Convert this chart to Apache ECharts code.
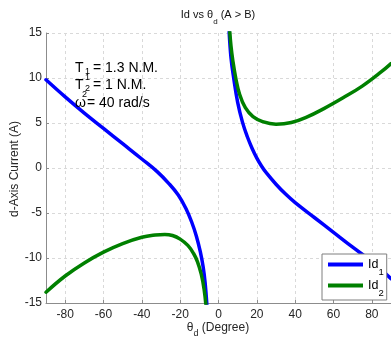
<!DOCTYPE html>
<html>
<head>
<meta charset="utf-8">
<script src="https://cdn.jsdelivr.net/npm/echarts@6/dist/echarts.min.js"></script>
<style>html,body{margin:0;padding:0;background:#fff;}#c{width:391px;height:342px;}</style>
</head>
<body>
<div id="c"></div>
<script>
// ---- data ----
const xTicks = [-80, -60, -40, -20, 0, 20, 40, 60, 80];
const yTicks = [-15, -10, -5, 0, 5, 10, 15];

const thetaId1Left = [-90, -80, -70, -60, -50, -40, -32, -26, -21, -17, -14, -11.5, -9.5, -8, -7, -6];
const id1Left      = [9.8, 7.9, 6.1, 4.4, 2.7, 1.0, -0.4, -1.7, -3.0, -4.5, -6.0, -7.6, -9.3, -11.0, -12.7, -15.4];

const thetaId2Left = [-90, -80, -70, -60, -50, -40, -33, -28, -24, -20, -16, -13, -11, -9, -7.5, -6.5];
const id2Left      = [-13.8, -12.0, -10.55, -9.35, -8.4, -7.7, -7.45, -7.38, -7.5, -7.9, -8.6, -9.5, -10.4, -11.8, -13.5, -15.4];

const thetaId1Right = [5.5, 6.5, 8, 10, 12.5, 15, 17.5, 20, 22.5, 25, 30, 35, 40, 50, 60, 70, 80, 90];
const id1Right      = [15.4, 12.3, 9.9, 7.3, 5.1, 3.5, 2.2, 1.1, 0.2, -0.55, -1.8, -2.9, -3.85, -5.5, -7.15, -8.8, -10.4, -12.3];

const thetaId2Right = [5.8, 6.5, 7.5, 9, 11, 14, 18, 23, 30, 38, 46, 55, 65, 75, 85, 90];
const id2Right      = [15.4, 13.6, 11.9, 10.0, 8.2, 6.7, 5.7, 5.15, 4.87, 5.05, 5.65, 6.6, 7.8, 9.1, 10.7, 11.6];

// ---- chart ----
const FONT = "'Liberation Sans', Arial, Helvetica, sans-serif";
const zip = (xs, ys) => xs.map((x, i) => [x, ys[i]]);
const BLUE = '#0000ff', GREEN = '#008000';

function lineSeries(name, color, data) {
  return {
    name: name, type: 'line', data: data, color: color,
    showSymbol: false, symbol: 'none', smooth: 0.4,
    lineStyle: {width: 3.5, color: color, cap: 'round', join: 'round'}, clip: true, z: 3,
    emphasis: {disabled: true}
  };
}

const chart = echarts.init(document.getElementById('c'), null, {renderer: 'canvas'});
const gridLine = {show: true, lineStyle: {color: '#d9d9d9', type: [3, 3], width: 1}};

chart.setOption({
  animation: false,
  backgroundColor: '#ffffff',
  textStyle: {fontFamily: FONT},
  grid: {left: 46, right: -1, top: 33, bottom: 39, containLabel: false},
  xAxis: {
    type: 'value', min: -90, max: 90, splitNumber: 9,
    axisLine: {show: true, onZero: false, lineStyle: {color: '#8c8c8c', width: 1}},
    axisTick: {show: true, inside: true, length: 3, customValues: xTicks, lineStyle: {color: '#8c8c8c'}},
    axisLabel: {customValues: xTicks, color: '#262626', fontSize: 12, margin: 6, fontFamily: FONT},
    splitLine: gridLine
  },
  yAxis: {
    type: 'value', min: -15, max: 15, interval: 5,
    axisLine: {show: true, onZero: false, lineStyle: {color: '#8c8c8c', width: 1}},
    axisTick: {show: true, inside: true, length: 3, lineStyle: {color: '#8c8c8c'}},
    axisLabel: {color: '#262626', fontSize: 12, margin: 4, fontFamily: FONT},
    splitLine: gridLine
  },
  legend: {
    show: true, orient: 'vertical', left: 322, top: 254,
    data: ['Id1', 'Id2'],
    icon: 'rect', itemWidth: 35, itemHeight: 4, itemGap: 2,
    padding: [4, 3, 2, 6],
    backgroundColor: '#ffffff', borderColor: '#7f7f7f', borderWidth: 1, borderRadius: 0,
    selectedMode: false,
    formatter: function (name) { return '{m|Id}{s|' + name.slice(2) + '}'; },
    textStyle: {
      fontFamily: FONT, color: '#000',
      rich: {
        m: {fontSize: 12.5, fontFamily: FONT, color: '#000', verticalAlign: 'top', lineHeight: 13},
        s: {fontSize: 9.5, fontFamily: FONT, color: '#000', verticalAlign: 'top', lineHeight: 9, padding: [9, 0, 0, 0]}
      }
    }
  },
  series: [
    lineSeries('Id1', BLUE, zip(thetaId1Left, id1Left)),
    lineSeries('Id2', GREEN, zip(thetaId2Left, id2Left)),
    lineSeries('Id1', BLUE, zip(thetaId1Right, id1Right)),
    lineSeries('Id2', GREEN, zip(thetaId2Right, id2Right))
  ],
  graphic: [
    // title
    {type: 'text', x: 218, y: 9, z: 10, style: {
      text: '{m|Id vs θ}{s|d}{m| (A > B)}', align: 'center', verticalAlign: 'top',
      rich: {
        m: {fontSize: 11, fontFamily: FONT, fill: '#111', verticalAlign: 'top', lineHeight: 13},
        s: {fontSize: 8, fontFamily: FONT, fill: '#111', verticalAlign: 'top', lineHeight: 8, padding: [9, 0, 0, 0]}
      }}},
    // x axis name
    {type: 'text', x: 218, y: 322, z: 10, style: {
      text: '{m|θ}{s|d}{m| (Degree)}', align: 'center', verticalAlign: 'top',
      rich: {
        m: {fontSize: 12, fontFamily: FONT, fill: '#262626', verticalAlign: 'top', lineHeight: 14},
        s: {fontSize: 9, fontFamily: FONT, fill: '#262626', verticalAlign: 'top', lineHeight: 9, padding: [7, 0, 0, 0]}
      }}},
    // y axis name
    {type: 'text', x: 15, y: 169, rotation: Math.PI / 2, z: 10, style: {
      text: 'd-Axis Current (A)', align: 'center', verticalAlign: 'middle',
      fontSize: 12, fontFamily: FONT, fill: '#262626'}},
    // annotation block
    {type: 'text', x: 75, y: 68, z: 10, style: {text: 'T', fontSize: 14, fontFamily: FONT, fill: '#000', verticalAlign: 'middle'}},
    {type: 'text', x: 85, y: 72, z: 10, style: {text: '1', fontSize: 9, fontFamily: FONT, fill: '#000', verticalAlign: 'middle'}},
    {type: 'text', x: 93, y: 68, z: 10, style: {text: '= 1.3 N.M.', fontSize: 14, fontFamily: FONT, fill: '#000', verticalAlign: 'middle'}},
    {type: 'text', x: 75, y: 85.5, z: 10, style: {text: 'T', fontSize: 14, fontFamily: FONT, fill: '#000', verticalAlign: 'middle'}},
    {type: 'text', x: 85, y: 77.5, z: 10, style: {text: '1', fontSize: 9, fontFamily: FONT, fill: '#000', verticalAlign: 'middle'}},
    {type: 'text', x: 85, y: 89, z: 10, style: {text: '2', fontSize: 9, fontFamily: FONT, fill: '#000', verticalAlign: 'middle'}},
    {type: 'text', x: 93, y: 85.5, z: 10, style: {text: '= 1 N.M.', fontSize: 14, fontFamily: FONT, fill: '#000', verticalAlign: 'middle'}},
    {type: 'text', x: 75, y: 103, z: 10, style: {text: 'ω', fontSize: 14, fontFamily: FONT, fill: '#000', verticalAlign: 'middle'}},
    {type: 'text', x: 82, y: 94.5, z: 10, style: {text: '2', fontSize: 9, fontFamily: FONT, fill: '#000', verticalAlign: 'middle'}},
    {type: 'text', x: 87, y: 103, z: 10, style: {text: '= 40 rad/s', fontSize: 14, fontFamily: FONT, fill: '#000', verticalAlign: 'middle'}}
  ]
});
</script>
</body>
</html>
